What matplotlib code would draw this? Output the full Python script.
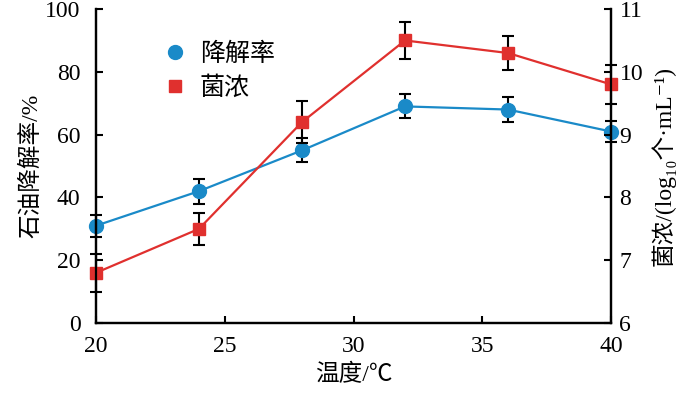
import matplotlib
matplotlib.use('Agg')
import matplotlib.pyplot as plt
from matplotlib.lines import Line2D

plt.rcParams['font.family'] = ['Liberation Serif', 'Noto Sans CJK SC', 'DejaVu Sans']

# data
temp = [20, 24, 28, 32, 36, 40]
rate = [31, 42, 55, 69, 68, 61]
rate_err = [3.5, 4, 3.8, 3.8, 4, 3.3]
conc = [6.8, 7.5, 9.2, 10.5, 10.3, 9.8]
conc_err = [0.3, 0.25, 0.33, 0.3, 0.27, 0.31]

blue = '#1a8ac8'
red = '#e0302e'

fig = plt.figure(figsize=(7, 3.94), dpi=100)
ax = fig.add_axes([0.137, 0.180, 0.736, 0.797])
ax2 = ax.twinx()

ax.errorbar(temp, rate, yerr=rate_err, color=blue, lw=1.6, marker='o', ms=10,
            ecolor='black', elinewidth=1.5, capsize=4, capthick=1.5, clip_on=False)
ax2.errorbar(temp, conc, yerr=conc_err, color=red, lw=1.6, marker='s', ms=9,
             ecolor='black', elinewidth=1.5, capsize=4, capthick=1.5, clip_on=False)

ax.set_xlim(20, 40)
ax.set_ylim(0, 100)
ax2.set_ylim(6, 11)
ax.set_xticks([20, 25, 30, 35, 40])
ax.set_yticks([0, 20, 40, 60, 80, 100])
ax2.set_yticks([6, 7, 8, 9, 10, 11])

for a in (ax, ax2):
    a.spines['top'].set_visible(False)
    for s in ('left', 'right', 'bottom'):
        a.spines[s].set_linewidth(1.6)
    a.tick_params(direction='in', length=5, width=1.5, labelsize=17)
ax.tick_params(axis='y', pad=11)
ax.tick_params(axis='x', pad=9)
ax2.tick_params(axis='y', pad=6)

ax.set_xlabel('温度/℃', fontsize=17, labelpad=5)
ax.set_ylabel('石油降解率/%', fontsize=17, labelpad=2)
ax2.set_ylabel('菌浓/(log₁₀个·mL⁻¹)', fontsize=17, labelpad=6)

handles = [Line2D([], [], color=blue, marker='o', ms=10, ls='none'),
           Line2D([], [], color=red, marker='s', ms=9, ls='none')]
ax2.legend(handles, ['降解率', '菌浓'], loc='upper left', bbox_to_anchor=(0.085, 0.965),
           frameon=False, fontsize=18, handlelength=1.0, handletextpad=0.5,
           labelspacing=0.4)

fig.savefig('out.png', dpi=100)
